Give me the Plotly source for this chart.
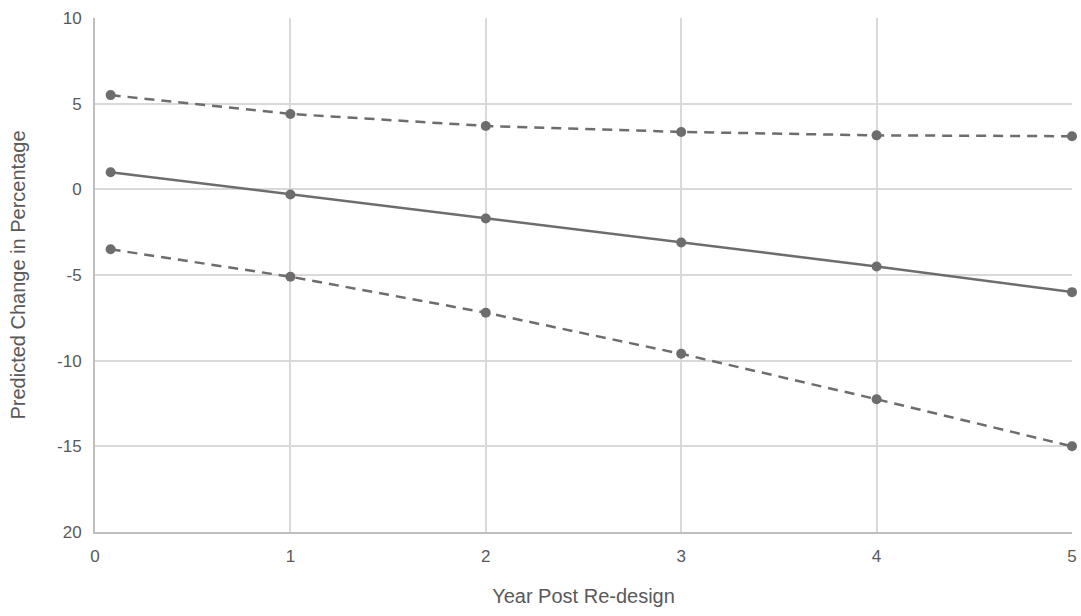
import plotly.graph_objects as go

years = [0.08, 1, 2, 3, 4, 5]
upper = [5.5, 4.4, 3.7, 3.35, 3.15, 3.1]
predicted = [1.0, -0.3, -1.7, -3.1, -4.5, -6.0]
lower = [-3.5, -5.1, -7.2, -9.6, -12.25, -15.0]

y_tickvals = [10, 5, 0, -5, -10, -15, -20]
y_ticktext = ["10", "5", "0", "-5", "-10", "-15", "20"]
x_tickvals = [0, 1, 2, 3, 4, 5]

col = "#6e6c6c"
fig = go.Figure()
for ys, dash in [(upper, "dash"), (predicted, "solid"), (lower, "dash")]:
    fig.add_trace(go.Scatter(
        x=years, y=ys, mode="lines+markers",
        line=dict(color=col, width=2.5, dash=dash if dash == "solid" else "10px,7px"),
        marker=dict(color=col, size=10),
        showlegend=False, cliponaxis=False,
    ))

fig.update_layout(
    width=1081, height=616,
    margin=dict(l=95, r=9, t=18, b=84, autoexpand=False),
    paper_bgcolor="white", plot_bgcolor="white",
    font=dict(family="Liberation Sans, sans-serif", color="#595959", size=18),
    xaxis=dict(
        range=[0, 5], tickvals=x_tickvals, showgrid=True, gridcolor="#d9d9d9", gridwidth=1.5,
        showline=True, linecolor="#bfbfbf", linewidth=2, zeroline=False,
        ticks="outside", ticklen=8, tickcolor="rgba(0,0,0,0)", tickfont=dict(size=17),
        title=dict(text="Year Post Re-design", font=dict(size=20), standoff=24),
    ),
    yaxis=dict(
        range=[-20, 10], tickvals=y_tickvals, ticktext=y_ticktext, showgrid=True,
        gridcolor="#d9d9d9", gridwidth=1.5, showline=True, linecolor="#bfbfbf", linewidth=2,
        zeroline=False, ticks="outside", ticklen=8, tickcolor="rgba(0,0,0,0)",
        tickfont=dict(size=17),
        title=dict(text="Predicted Change in Percentage", font=dict(size=20), standoff=26),
    ),
)
fig.write_html(
    "out.html",
    config={"displayModeBar": False},
    post_script="document.body.style.margin='0';document.body.style.overflow='hidden';",
)
